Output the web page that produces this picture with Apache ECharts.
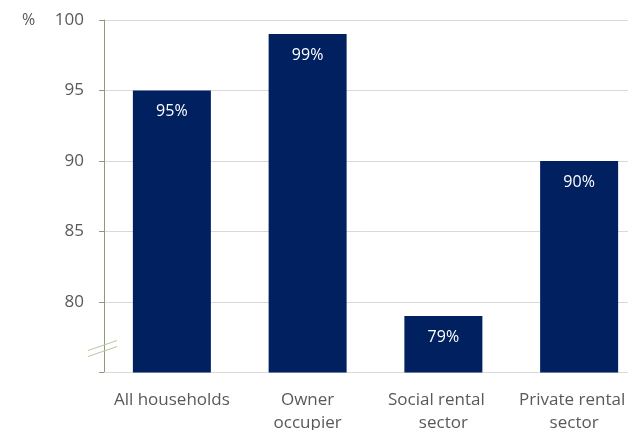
<!DOCTYPE html>
<html>
<head>
<meta charset="utf-8">
<script src="https://cdn.jsdelivr.net/npm/echarts@6/dist/echarts.min.js"></script>
<style>
  html, body { margin: 0; padding: 0; background: #fff; }
  #chart { width: 628px; height: 430px; }
</style>
</head>
<body>
<div id="chart"></div>
<script>
// Share of households, by tenure (%)
const categories = ['All households', 'Owner\noccupier', 'Social rental\nsector', 'Private rental\nsector'];
const shares = [95, 99, 79, 90];
const yMin = 75, yMax = 100, yStep = 5;

const FONT = 'Open Sans';
const TEXT = '#595959';
const FS = 17;

const lbl = { color: TEXT, fontSize: FS, fontFamily: FONT, lineHeight: 23 };

// Category labels: the rental-sector lines are nudged left so the last one stays inside the frame
function categoryLabel(value) {
  const lines = value.split('\n');
  if (value.startsWith('Social')) return '{l|' + lines[0] + '}\n{n|' + lines[1] + '}';
  if (value.startsWith('Private')) return '{l|' + lines[0] + '}\n{r|' + lines[1] + '}';
  return lines.map(t => '{n|' + t + '}').join('\n');
}

const chart = echarts.init(document.getElementById('chart'), null, { renderer: 'canvas' });

chart.setOption({
  animation: false,
  textStyle: { fontFamily: FONT },
  grid: { left: 104, top: 20, bottom: 57.5, width: 543, containLabel: false, outerBoundsMode: 'none' },
  xAxis: {
    type: 'category',
    data: categories,
    axisLine: { show: true, lineStyle: { color: '#d9d9d9', width: 1 } },
    axisTick: { show: false },
    axisLabel: {
      color: TEXT, fontSize: FS, fontFamily: FONT, margin: 16, lineHeight: 23, interval: 0,
      formatter: categoryLabel,
      rich: {
        n: lbl,
        l: Object.assign({ padding: [0, 14, 0, 0] }, lbl),
        r: Object.assign({ padding: [0, 10, 0, 0] }, lbl)
      }
    }
  },
  yAxis: {
    type: 'value',
    min: yMin, max: yMax, interval: yStep,
    axisLine: { show: true, lineStyle: { color: '#8d9a7c', width: 1 } },
    axisTick: { show: true, length: 5, lineStyle: { color: '#8d9a7c' } },
    axisLabel: {
      color: TEXT, fontSize: FS, fontFamily: FONT, margin: 20,
      formatter: v => (v === yMin ? '' : String(v))
    },
    splitLine: { lineStyle: { color: '#d9d9d9', width: 1 } }
  },
  series: [{
    type: 'bar',
    data: shares,
    barWidth: 78,
    itemStyle: { color: '#002060' },
    label: {
      show: true, position: 'insideTop', distance: 13,
      color: '#ffffff', fontSize: 16, fontFamily: FONT,
      formatter: p => p.value + '%'
    }
  }]
});

// Unit label and the axis-break marks near the bottom of the value axis
const breakPt = chart.convertToPixel({ gridIndex: 0 }, [0, 76.7]);
const ax = 104, by = breakPt[1];
const breakLine = dy => ({
  type: 'line',
  shape: { x1: ax - 16, y1: by + 5 + dy, x2: ax + 13, y2: by - 5 + dy },
  style: { stroke: '#b7c4a3', lineWidth: 1 },
  z: 10
});
chart.setOption({
  graphic: [
    { type: 'text', left: 22, top: 12, style: { text: '%', fill: TEXT, font: '16px "' + FONT + '"' } },
    breakLine(-3),
    breakLine(3)
  ]
});
</script>
</body>
</html>
